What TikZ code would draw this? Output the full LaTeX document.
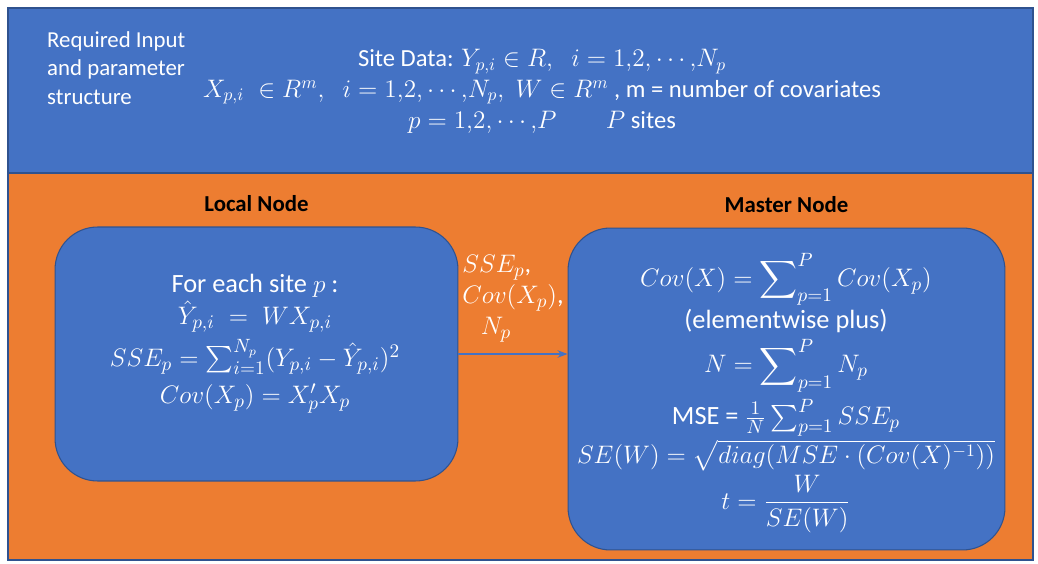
\documentclass[tikz,border=0pt]{standalone}
\usepackage{amsmath,amssymb}
\usepackage{fontspec}
\setmainfont{Carlito}
\usepackage{xcolor}
\usetikzlibrary{positioning,arrows.meta}
\definecolor{officeblue}{HTML}{4472C4}
\definecolor{officeorange}{HTML}{ED7D31}
\definecolor{edgeblue}{HTML}{2F528F}

\begin{document}
\begin{tikzpicture}[
    x=0.02cm, y=-0.02cm,
    node distance=0.17cm,
    band/.style={draw=edgeblue, line width=0.6pt},
    panel/.style={rectangle, rounded corners=0.85cm, draw=edgeblue, fill=officeblue, line width=0.6pt},
    body/.style={text=white, align=center, font=\fontsize{15}{19}\selectfont},
    title/.style={font=\fontsize{13}{16}\selectfont\bfseries},
    arrow/.style={-{Stealth[length=2mm]}, draw=officeblue, line width=0.8pt}
]
    \useasboundingbox (0,0) rectangle (1038,564);
    \fill[white] (0,0) rectangle (1038,564);
    \draw[band, fill=officeblue] (8,8) rectangle (1033,173);
    \draw[band, fill=officeorange] (8,173) rectangle (1033,560);

    % input structure
    \node[anchor=west, text=white, align=left, font=\fontsize{13}{16.2}\selectfont] (required) at (41,68)
        {Required Input\\and parameter\\structure};
    \node[text=white, align=center, font=\fontsize{14}{17.6}\selectfont] (sitedata) at (542,91)
        {Site Data: $Y_{p,i}\in R,\;\; i=1{,}2{,}\cdots{,}N_p$\\
         $X_{p,i}\;\in R^m,\;\; i=1{,}2{,}\cdots{,}N_p,\; W\in R^m$ , m = number of covariates\\
         $p=1{,}2{,}\cdots{,}P \qquad P$ sites};

    % local and master node
    \node[panel, minimum width=8.06cm, minimum height=5.08cm] (local) at (256.5,354) {};
    \node[panel, minimum width=8.74cm, minimum height=6.44cm] (master) at (786.5,389) {};
    \node[title, above=of local] (localtitle) {Local Node};
    \node[title, above=of master] (mastertitle) {Master Node};

    \node[body] (localtext) at (255,344)
        {For each site $p$ :\\[-1pt]
         $\hat{Y}_{p,i}\;=\;WX_{p,i}$\\[3pt]
         $SSE_p=\sum_{i=1}^{N_p}(Y_{p,i}-\hat{Y}_{p,i})^2$\\[2pt]
         $Cov(X_p)=X_p'X_p$};
    \node[body] (mastertext) at (786,393)
        {$Cov(X)=\displaystyle\sum\nolimits_{p=1}^{P}Cov(X_p)$\\[1pt]
         (elementwise plus)\\[3pt]
         $N=\displaystyle\sum\nolimits_{p=1}^{P}N_p$\\[3pt]
         MSE = $\frac{1}{N}\sum_{p=1}^{P}SSE_p$\\[1pt]
         {\fontsize{14.5}{18}\selectfont$SE(W)=\sqrt{diag(MSE\cdot(Cov(X)^{-1}))}$}\\[1pt]
         $t=\dfrac{W}{SE(W)}$};

    \draw[arrow] (local.east) -- node[above=3pt, text=white, align=left, font=\fontsize{15}{17.6}\selectfont] (sent)
        {$SSE_p$,\\$Cov(X_p)$,\\\hspace*{0.7em}$N_p$} (local.east -| master.west);
\end{tikzpicture}
\end{document}
